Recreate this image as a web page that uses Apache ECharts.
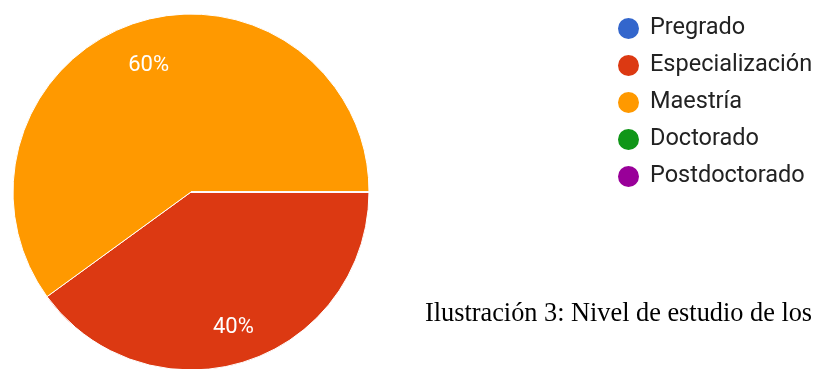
<!DOCTYPE html>
<html>
<head>
<meta charset="utf-8">
<script src="https://cdn.jsdelivr.net/npm/echarts@6/dist/echarts.min.js"></script>
<style>html,body{margin:0;padding:0;background:#fff;}#c{width:816px;height:369px;}</style>
</head>
<body>
<div id="c"></div>
<script>
const categories = ['Pregrado', 'Especialización', 'Maestría', 'Doctorado', 'Postdoctorado'];
const values = [0, 40, 60, 0, 0];
const colors = ['#3366cc', '#dc3912', '#ff9900', '#109618', '#990099'];
const caption = 'Ilustración 3: Nivel de estudio de los';

const data = categories.map((n, i) => ({ name: n, value: values[i] }));
const chart = echarts.init(document.getElementById('c'), null, { renderer: 'canvas' });
chart.setOption({
  animation: false,
  color: colors,
  legend: {
    orient: 'vertical',
    left: 611,
    top: 11,
    icon: 'circle',
    itemWidth: 23,
    itemHeight: 23,
    itemGap: 12,
    textStyle: { fontFamily: 'Roboto', fontSize: 23.5, lineHeight: 23, color: '#222222', padding: [0, 0, 0, 5] },
    data: categories
  },
  series: [
    {
      type: 'pie',
      center: [191, 192],
      radius: [0, 178],
      startAngle: 0,
      clockwise: true,
      label: { show: false },
      labelLine: { show: false },
      itemStyle: { borderColor: '#ffffff', borderWidth: 1 },
      emphasis: { disabled: true },
      data: data
    },
    {
      type: 'pie',
      center: [191, 196.5],
      radius: [90.5, 178],
      startAngle: 0,
      clockwise: true,
      silent: true,
      itemStyle: { color: 'rgba(0,0,0,0)', borderWidth: 0 },
      label: {
        show: true,
        position: 'inside',
        color: '#ffffff',
        fontFamily: 'Roboto',
        fontSize: 22,
        formatter: p => p.value > 0 ? Math.round(p.percent) + '%' : ''
      },
      labelLine: { show: false },
      emphasis: { disabled: true },
      data: data
    }
  ],
  graphic: [
    { type: 'rect', z: 100, shape: { x: 333, y: 298, width: 50, height: 80 }, style: { fill: '#ffffff' } },
    { type: 'text', z: 100, x: 425, y: 314, style: { text: caption, fontFamily: 'Liberation Serif', fontSize: 26.3, fill: '#000000', verticalAlign: 'middle', align: 'left' } }
  ]
});
</script>
</body>
</html>
